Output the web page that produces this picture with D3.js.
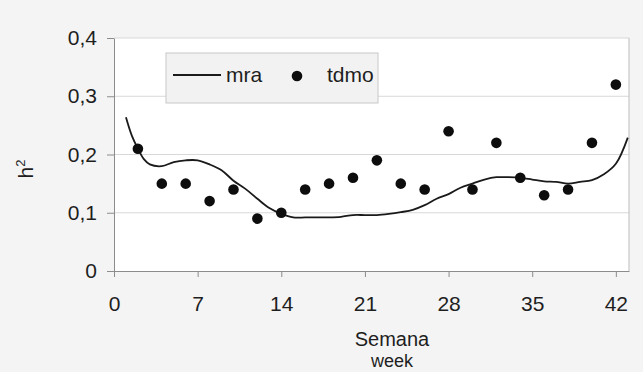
<!DOCTYPE html>
<html>
<head>
<meta charset="utf-8">
<script src="https://cdn.jsdelivr.net/npm/d3@7"></script>
<style>
    html, body { margin: 0; padding: 0; background: #f4f4f4; }
    svg { display: block; font-family: "Liberation Sans", Arial, sans-serif; }
</style>
</head>
<body>
<div id="chart"></div>
<script>
// DATA ///////////////////////////////////////////////////////////////////////
// mra: smooth curve, read off the picture week by week
const mraWeeks = [1, 1.5, 2, 2.5, 3, 4, 5, 6, 7, 8, 9, 10, 11, 12, 13, 14, 15, 16, 17, 18,
                  19, 20, 21, 22, 23, 24, 25, 26, 27, 28, 29, 30, 31, 32, 33, 34, 35, 36,
                  37, 38, 39, 40, 41, 42, 43];
const mraValues = [0.264, 0.232, 0.210, 0.192, 0.183, 0.180, 0.187, 0.190, 0.190, 0.183,
                   0.173, 0.155, 0.141, 0.124, 0.108, 0.098, 0.092, 0.092, 0.092, 0.092,
                   0.093, 0.096, 0.096, 0.096, 0.098, 0.101, 0.105, 0.113, 0.124, 0.132,
                   0.143, 0.150, 0.157, 0.161, 0.161, 0.160, 0.157, 0.154, 0.153, 0.150,
                   0.153, 0.156, 0.166, 0.184, 0.229];

// tdmo: the dots
const tdmoWeeks = [2, 4, 6, 8, 10, 12, 14, 16, 18, 20, 22, 24, 26, 28, 30, 32, 34, 36, 38, 40, 42];
const tdmoValues = [0.21, 0.15, 0.15, 0.12, 0.14, 0.09, 0.10, 0.14, 0.15, 0.16, 0.19,
                    0.15, 0.14, 0.24, 0.14, 0.22, 0.16, 0.13, 0.14, 0.22, 0.32];

const xTicks = [0, 7, 14, 21, 28, 35, 42];
const yTicks = [0, 0.1, 0.2, 0.3, 0.4];
const seriesNames = ["mra", "tdmo"];

// CHART //////////////////////////////////////////////////////////////////////
(function() {
    const width = 643, height = 372;
    const left = 114, right = 629, top = 38, bottom = 271;
    const fontSize = "21px";

    const svg = d3.select("#chart").append("svg")
        .attr("width", width)
        .attr("height", height);

    const x = d3.scaleLinear().domain([0, 43.1]).range([left, right]);
    const y = d3.scaleLinear().domain([0, 0.4]).range([bottom, top]);
    const fmt = d => d === 0 ? "0" : d3.format(".1f")(d).replace(".", ",");

    // plot area
    svg.append("rect")
        .attr("x", left).attr("y", top)
        .attr("width", right - left).attr("height", bottom - top)
        .attr("fill", "#fff");

    // gridlines
    svg.append("g").selectAll("line")
        .data(yTicks.filter(d => d > 0))
        .enter().append("line")
        .attr("x1", left).attr("x2", right)
        .attr("y1", d => y(d)).attr("y2", d => y(d))
        .attr("stroke", "#d8d8d8");

    // right border
    svg.append("line")
        .attr("x1", right).attr("x2", right)
        .attr("y1", top).attr("y2", bottom)
        .attr("stroke", "#bdbdbd");

    // axes
    const xAxis = svg.append("g")
        .attr("transform", `translate(0,${bottom})`)
        .call(d3.axisBottom(x).tickValues(xTicks).tickSizeInner(6).tickSizeOuter(0).tickPadding(19));
    const yAxis = svg.append("g")
        .attr("transform", `translate(${left},0)`)
        .call(d3.axisLeft(y).tickValues(yTicks).tickFormat(fmt).tickSizeInner(7).tickSizeOuter(0).tickPadding(10));

    [xAxis, yAxis].forEach(function(g) {
        g.select(".domain").attr("stroke", "#8c8c8c");
        g.selectAll(".tick line").attr("stroke", "#8c8c8c");
        g.selectAll(".tick text")
            .attr("fill", "#1e1e1e")
            .style("font-size", fontSize)
            .style("font-family", "'Liberation Sans', Arial, sans-serif");
    });

    // mra line
    const mra = mraWeeks.map((w, i) => ({x: w, y: mraValues[i]}));
    svg.append("path")
        .datum(mra)
        .attr("fill", "none")
        .attr("stroke", "#1a1a1a")
        .attr("stroke-width", 1.8)
        .attr("d", d3.line()
            .x(d => x(d.x))
            .y(d => y(d.y))
            .curve(d3.curveCatmullRom));

    // tdmo dots
    svg.append("g").selectAll("circle")
        .data(tdmoWeeks.map((w, i) => ({x: w, y: tdmoValues[i]})))
        .enter().append("circle")
        .attr("cx", d => x(d.x))
        .attr("cy", d => y(d.y))
        .attr("r", 5.3)
        .attr("fill", "#0d0d0d");

    // legend
    const legend = svg.append("g");
    legend.append("rect")
        .attr("x", 166).attr("y", 53)
        .attr("width", 212).attr("height", 50)
        .attr("fill", "#f2f2f2")
        .attr("stroke", "#c8c8c8");
    legend.append("line")
        .attr("x1", 173).attr("x2", 221)
        .attr("y1", 75).attr("y2", 75)
        .attr("stroke", "#1a1a1a").attr("stroke-width", 1.8);
    legend.append("circle")
        .attr("cx", 297).attr("cy", 76).attr("r", 5.3)
        .attr("fill", "#0d0d0d");
    legend.selectAll("text")
        .data(seriesNames)
        .enter().append("text")
        .attr("x", (d, i) => i === 0 ? 226 : 327)
        .attr("y", 82)
        .attr("fill", "#1e1e1e")
        .style("font-size", fontSize)
        .text(d => d);

    // axis titles
    svg.append("text")
        .attr("transform", "translate(33,169) rotate(-90)")
        .attr("text-anchor", "middle")
        .attr("fill", "#1e1e1e")
        .style("font-size", fontSize)
        .html("h<tspan dy='-8' font-size='13px'>2</tspan>");

    svg.append("text")
        .attr("x", 392).attr("y", 346)
        .attr("text-anchor", "middle")
        .attr("fill", "#1e1e1e")
        .style("font-size", "20px")
        .text("Semana");
    svg.append("text")
        .attr("x", 392).attr("y", 367)
        .attr("text-anchor", "middle")
        .attr("fill", "#1e1e1e")
        .style("font-size", "18px")
        .text("week");
})();
</script>
</body>
</html>
